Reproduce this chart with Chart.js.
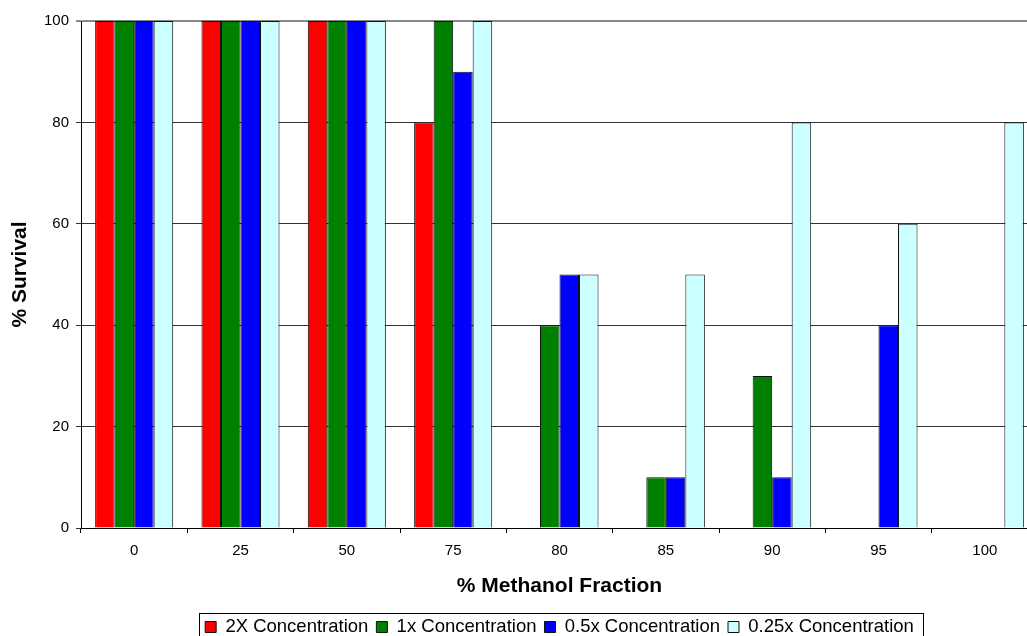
<!DOCTYPE html>
<html>
<head>
<meta charset="utf-8">
<script src="https://cdn.jsdelivr.net/npm/chart.js@4.4.1/dist/chart.umd.min.js"></script>
<style>
  html, body { margin: 0; padding: 0; background: #fff; }
  #frame { width: 1027px; height: 636px; overflow: hidden; position: relative; }
  #c { display: block; }
</style>
</head>
<body>
<div id="frame"><canvas id="c" width="1045" height="660"></canvas></div>
<script>
// Survival (%) per methanol fraction for each extract concentration
const categories = ['0', '25', '50', '75', '80', '85', '90', '95', '100'];
const seriesNames = ['2X Concentration', '1x Concentration', '0.5x Concentration', '0.25x Concentration'];
const conc2x   = [100, 100, 100, 80, 0, 0, 0, 0, 0];
const conc1x   = [100, 100, 100, 100, 40, 10, 30, 0, 0];
const conc05x  = [100, 100, 100, 90, 50, 10, 10, 40, 0];
const conc025x = [100, 100, 100, 100, 50, 50, 80, 60, 80];
const yMin = 0, yMax = 100, yStep = 20;

const seriesValues = [conc2x, conc1x, conc05x, conc025x];
const seriesColors = ['#FF0000', '#008000', '#0000FF', '#CCFFFF'];

const FONT = '"Liberation Sans", Arial, Helvetica, sans-serif';

// Outline drawn around the legend row
const legendFrame = {
  id: 'legendFrame',
  afterDraw(chart) {
    const lg = chart.legend;
    if (!lg || !lg.legendHitBoxes || !lg.legendHitBoxes.length) return;
    const hb = lg.legendHitBoxes;
    const last = hb[hb.length - 1];
    const left = Math.round(hb[0].left - 6);
    const right = Math.round(last.left + last.width + 9);
    const cy = hb[0].top + hb[0].height / 2;
    const top = Math.round(cy - 14);
    const ctx = chart.ctx;
    ctx.save();
    ctx.strokeStyle = '#000';
    ctx.lineWidth = 1;
    ctx.strokeRect(left + 0.5, top + 0.5, right - left, 28);
    ctx.restore();
  }
};

new Chart(document.getElementById('c'), {
  type: 'bar',
  data: {
    labels: categories,
    datasets: seriesValues.map((vals, i) => ({
      label: seriesNames[i],
      data: vals,
      backgroundColor: seriesColors[i],
      borderColor: '#111',
      borderWidth: 1,
      categoryPercentage: 0.734,
      barPercentage: 1.0
    }))
  },
  options: {
    responsive: false,
    animation: false,
    devicePixelRatio: 1,
    layout: { padding: { top: 21, right: 7, bottom: 13.75, left: 0 } },
    plugins: {
      tooltip: { enabled: false },
      legend: {
        position: 'bottom',
        fullSize: false,
        labels: {
          boxWidth: 11,
          boxHeight: 11,
          padding: 8,
          color: '#000',
          font: { family: FONT, size: 18.5 }
        }
      }
    },
    scales: {
      x: {
        offset: true,
        grid: {
          offset: true,
          drawOnChartArea: false,
          drawTicks: true,
          tickLength: 5,
          color: '#000'
        },
        border: { color: '#000', width: 1 },
        ticks: { color: '#000', padding: 9, font: { family: FONT, size: 15 } },
        title: {
          display: true,
          text: '% Methanol Fraction',
          color: '#000',
          font: { family: FONT, size: 21, weight: 'bold' },
          padding: { top: 4, bottom: 10.5 }
        },
        afterFit(scale) { scale.height = 81.75; }
      },
      y: {
        min: yMin,
        max: yMax,
        ticks: {
          stepSize: yStep,
          color: '#000',
          padding: 7,
          font: { family: FONT, size: 15 }
        },
        grid: {
          drawTicks: true,
          tickLength: 5,
          color: (ctx) => (ctx.tick && ctx.tick.value === yMax ? '#888' : '#333'),
          lineWidth: (ctx) => (ctx.tick && ctx.tick.value === yMax ? 2 : 1)
        },
        border: { color: '#000', width: 1 },
        title: {
          display: true,
          text: '% Survival',
          color: '#000',
          font: { family: FONT, size: 21, weight: 'bold' },
          padding: { top: 7.4, bottom: 0 }
        },
        afterFit(scale) { scale.width = 81; }
      }
    }
  },
  plugins: [legendFrame]
});
</script>
</body>
</html>
